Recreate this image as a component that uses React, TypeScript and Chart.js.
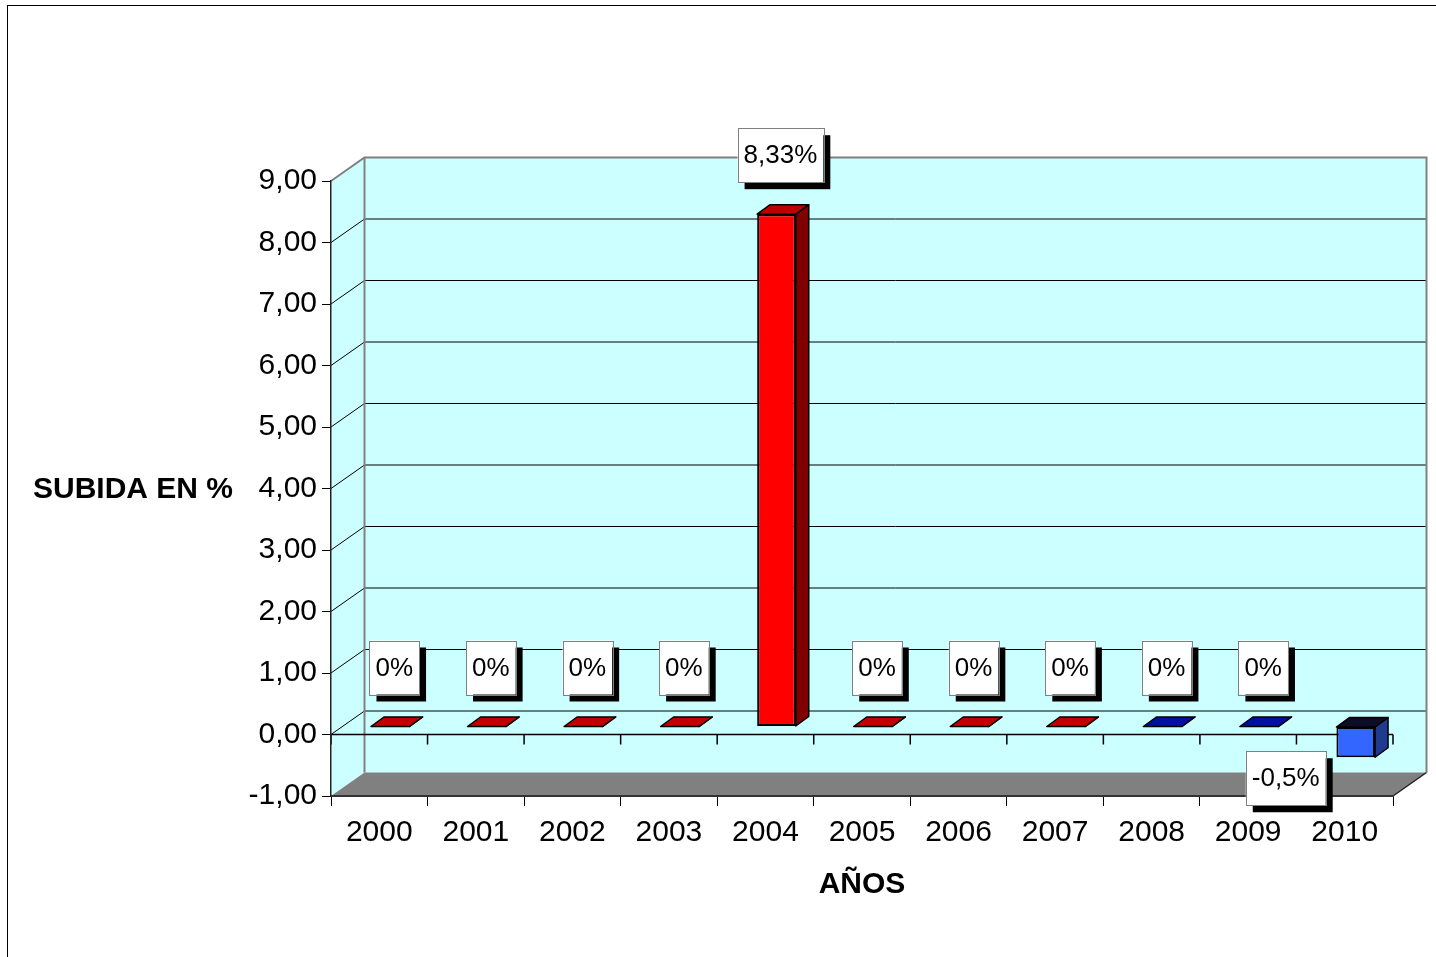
import React, { useEffect, useRef } from 'react';
import { Chart, registerables } from 'chart.js';

Chart.register(...registerables);

// ---- data ----
const years = ['2000', '2001', '2002', '2003', '2004', '2005', '2006', '2007', '2008', '2009', '2010'];
const subida = [0, 0, 0, 0, 8.33, 0, 0, 0, 0, 0, -0.5];
const yMin = -1;
const yMax = 9;
const yStep = 1;
const yTitle = 'SUBIDA EN %';
const xTitle = 'AÑOS';

// ---- styles ----
const frontColors = ['#FF0000', '#FF0000', '#FF0000', '#FF0000', '#FF0000', '#FF0000', '#FF0000', '#FF0000', '#3366FF', '#3366FF', '#3366FF'];
const topColors = ['#C00000', '#C00000', '#C00000', '#C00000', '#C00000', '#C00000', '#C00000', '#C00000', '#0010A0', '#0010A0', '#0D0D26'];
const sideColors = ['#800000', '#800000', '#800000', '#800000', '#800000', '#800000', '#800000', '#800000', '#1F3A8F', '#1F3A8F', '#1F3A8F'];

const FONT = '"Liberation Sans", Arial, Helvetica, sans-serif';
const WALL = '#CCFFFF';
const FLOOR = '#808080';
const DEPTH = { x: 33.5, y: -23.5 };
const BAR_SHIFT = { x: 11, y: -8 };
const BAR_DEPTH = { x: 13, y: -9.5 };

const fmtPct = (v: number) => String(v).replace('.', ',') + '%';

const excel3d = {
  id: 'excel3d',
  beforeDraw(chart: any) {
    const { ctx, chartArea: a, scales } = chart;
    const x = scales.x;
    const y = scales.y;
    const L = a.left, R = a.right, T = a.top, B = a.bottom;
    const dx = DEPTH.x, dy = DEPTH.y;
    ctx.save();
    ctx.fillStyle = '#FFFFFF';
    ctx.fillRect(0, 0, chart.width, chart.height);
    // outer frame
    ctx.strokeStyle = '#000';
    ctx.lineWidth = 1;
    ctx.strokeRect(7.5, 5.5, chart.width + 100, chart.height + 100);
    // side wall
    ctx.fillStyle = WALL;
    ctx.beginPath();
    ctx.moveTo(L, T);
    ctx.lineTo(L + dx, T + dy);
    ctx.lineTo(L + dx, B + dy);
    ctx.lineTo(L, B);
    ctx.closePath();
    ctx.fill();
    // back wall
    ctx.fillRect(L + dx, T + dy, R - L, B - T);
    // floor
    ctx.fillStyle = FLOOR;
    ctx.beginPath();
    ctx.moveTo(L, B);
    ctx.lineTo(L + dx, B + dy);
    ctx.lineTo(R + dx, B + dy);
    ctx.lineTo(R, B);
    ctx.closePath();
    ctx.fill();
    // grid lines on side + back wall
    ctx.strokeStyle = '#000';
    ctx.lineWidth = 1;
    const n = Math.round((yMax - yMin) / yStep);
    for (let k = 1; k < n; k++) {
      const py = y.getPixelForValue(yMin + k * yStep);
      ctx.beginPath();
      ctx.moveTo(L, py);
      ctx.lineTo(L + dx, py + dy);
      ctx.lineTo(R + dx, py + dy);
      ctx.stroke();
    }
    // wall edges
    ctx.strokeStyle = '#808080';
    ctx.lineWidth = 2;
    ctx.beginPath();
    ctx.moveTo(L, T);
    ctx.lineTo(L + dx, T + dy);
    ctx.lineTo(R + dx, T + dy);
    ctx.lineTo(R + dx, B + dy);
    ctx.stroke();
    ctx.beginPath();
    ctx.moveTo(L + dx, T + dy);
    ctx.lineTo(L + dx, B + dy);
    ctx.stroke();
    // floor right edge
    ctx.strokeStyle = '#222';
    ctx.lineWidth = 1.5;
    ctx.beginPath();
    ctx.moveTo(R, B);
    ctx.lineTo(R + dx, B + dy);
    ctx.stroke();
    // front zero line with ticks
    const y0 = y.getPixelForValue(0);
    ctx.strokeStyle = '#000';
    ctx.lineWidth = 1.5;
    ctx.beginPath();
    ctx.moveTo(L, y0);
    ctx.lineTo(R, y0);
    for (let i = 0; i <= years.length; i++) {
      const px = x.getPixelForValue(i - 0.5);
      ctx.moveTo(px, y0);
      ctx.lineTo(px, y0 + 10);
    }
    ctx.stroke();
    // y axis title (horizontal)
    ctx.fillStyle = '#000';
    ctx.font = 'bold 30px ' + FONT;
    ctx.textAlign = 'center';
    ctx.textBaseline = 'middle';
    ctx.fillText(yTitle, 133, y.getPixelForValue(4) + 1);
    ctx.restore();
  },
  beforeDatasetsDraw(chart: any) {
    chart.ctx.save();
    chart.ctx.translate(BAR_SHIFT.x, BAR_SHIFT.y);
  },
  afterDatasetsDraw(chart: any) {
    const ctx = chart.ctx;
    const meta = chart.getDatasetMeta(0);
    const bd = BAR_DEPTH;
    meta.data.forEach((bar: any, i: number) => {
      const p = bar.getProps(['x', 'y', 'base', 'width'], true);
      const l = p.x - p.width / 2;
      const r = p.x + p.width / 2;
      const top = Math.min(p.y, p.base);
      const bot = Math.max(p.y, p.base);
      ctx.strokeStyle = '#000';
      ctx.lineWidth = 1.5;
      ctx.lineJoin = 'round';
      // side face
      ctx.fillStyle = sideColors[i];
      ctx.beginPath();
      ctx.moveTo(r, top);
      ctx.lineTo(r + bd.x, top + bd.y);
      ctx.lineTo(r + bd.x, bot + bd.y);
      ctx.lineTo(r, bot);
      ctx.closePath();
      ctx.fill();
      ctx.stroke();
      // top face
      ctx.fillStyle = topColors[i];
      ctx.beginPath();
      ctx.moveTo(l, top);
      ctx.lineTo(l + bd.x, top + bd.y);
      ctx.lineTo(r + bd.x, top + bd.y);
      ctx.lineTo(r, top);
      ctx.closePath();
      ctx.fill();
      ctx.stroke();
    });
    ctx.restore();

    // data labels
    ctx.save();
    ctx.font = '26px ' + FONT;
    ctx.textAlign = 'center';
    ctx.textBaseline = 'middle';
    meta.data.forEach((bar: any, i: number) => {
      const v = subida[i];
      const p = bar.getProps(['x', 'y', 'base'], true);
      const text = fmtPct(v);
      const bw = ctx.measureText(text).width + 12;
      const bh = 54;
      const cx = p.x + BAR_SHIFT.x;
      let bx: number, by: number;
      if (v >= 0) {
        bx = cx + 4 - bw / 2;
        by = Math.min(p.y, p.base) + BAR_SHIFT.y - 32 - bh;
      } else {
        bx = cx - 70 - bw / 2;
        by = Math.max(p.y, p.base) + BAR_SHIFT.y - 6;
      }
      ctx.fillStyle = '#000';
      ctx.fillRect(bx + 7, by + 7, bw, bh);
      ctx.fillStyle = '#FFF';
      ctx.fillRect(bx, by, bw, bh);
      ctx.strokeStyle = '#808080';
      ctx.lineWidth = 1;
      ctx.strokeRect(Math.round(bx) + 0.5, Math.round(by) + 0.5, Math.round(bw), bh);
      ctx.fillStyle = '#000';
      ctx.fillText(text, bx + bw / 2, by + bh / 2 + 1);
    });
    ctx.restore();
  },
};

export default function App() {
  const ref = useRef<HTMLCanvasElement>(null);
  useEffect(() => {
    document.body.style.margin = '0';
    document.body.style.overflow = 'hidden';
    const canvas = ref.current;
    if (!canvas) return;
    const chart = new Chart(canvas, {
      type: 'bar',
      data: {
        labels: years,
        datasets: [
          {
            data: subida,
            backgroundColor: frontColors,
            borderColor: '#000',
            borderWidth: 2,
            borderSkipped: false,
            barPercentage: 0.4,
            categoryPercentage: 1,
            clip: false as any,
          } as any,
        ],
      },
      options: {
        animation: false,
        responsive: false,
        devicePixelRatio: 1,
        events: [],
        layout: { padding: { left: 0, top: 181, right: 43, bottom: 0 } },
        plugins: { legend: { display: false }, tooltip: { enabled: false }, title: { display: false } },
        scales: {
          x: {
            type: 'category',
            z: 1,
            offset: true,
            grid: {
              display: true,
              offset: true,
              drawOnChartArea: false,
              drawTicks: true,
              tickLength: 10,
              tickColor: '#000',
              tickWidth: 1,
            },
            border: { display: true, color: '#333', width: 2 },
            ticks: { color: '#000', font: { family: FONT, size: 30 }, padding: 9, maxRotation: 0, autoSkip: false },
            title: {
              display: true,
              text: xTitle,
              color: '#000',
              font: { family: FONT, size: 30, weight: 'bold' },
              padding: { top: 0, bottom: 54 },
            },
            afterFit: (s: any) => {
              s.height = 161;
            },
          },
          y: {
            type: 'linear',
            min: yMin,
            max: yMax,
            grid: {
              display: true,
              drawOnChartArea: false,
              drawTicks: true,
              tickLength: 9,
              tickColor: '#000',
              tickWidth: 1,
            },
            border: { display: true, color: '#222', width: 1.5 },
            ticks: {
              stepSize: yStep,
              color: '#000',
              padding: 5,
              font: { family: FONT, size: 30 },
              callback: (v: any) => Number(v).toFixed(2).replace('.', ','),
            },
            afterFit: (s: any) => {
              s.width = 331;
            },
          },
        },
      },
      plugins: [excel3d as any],
    });
    return () => chart.destroy();
  }, []);
  return <canvas ref={ref} width={1436} height={957} style={{ display: 'block' }} />;
}
